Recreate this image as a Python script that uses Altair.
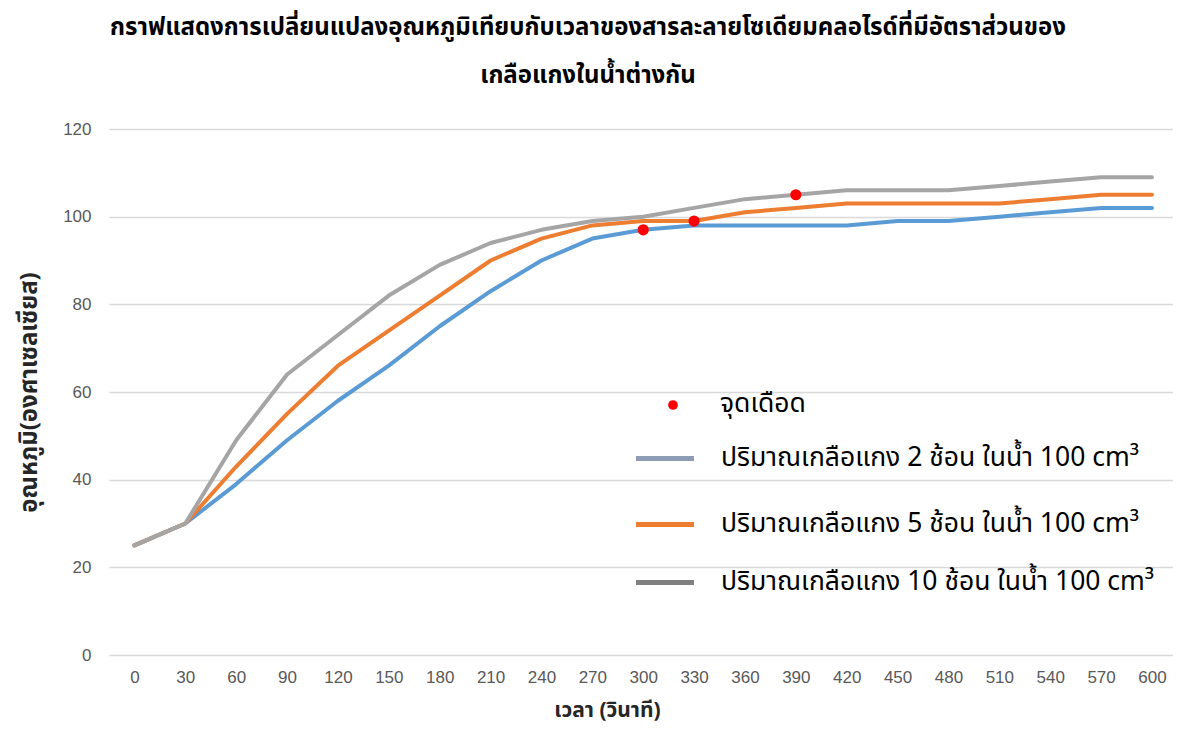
import altair as alt
import pandas as pd

times = [0, 30, 60, 90, 120, 150, 180, 210, 240, 270, 300, 330, 360, 390, 420, 450, 480, 510, 540, 570, 600]
temp_2 = [25, 30, 39, 49, 58, 66, 75, 83, 90, 95, 97, 98, 98, 98, 98, 99, 99, 100, 101, 102, 102]
temp_5 = [25, 30, 43, 55, 66, 74, 82, 90, 95, 98, 99, 99, 101, 102, 103, 103, 103, 103, 104, 105, 105]
temp_10 = [25, 30, 49, 64, 73, 82, 89, 94, 97, 99, 100, 102, 104, 105, 106, 106, 106, 107, 108, 109, 109]

boil_times = [300, 330, 390]
boil_temps = [97, 99, 105]

series_names = [
    "ปริมาณเกลือแกง 2 ช้อน ในน้ำ 100 cm³",
    "ปริมาณเกลือแกง 5 ช้อน ในน้ำ 100 cm³",
    "ปริมาณเกลือแกง 10 ช้อน ในน้ำ 100 cm³",
]
boil_name = "จุดเดือด"
line_colors = ["#5B9BD5", "#ED7D31", "#A5A5A5"]
legend_colors = ["#8E9DB5", "#ED7D31", "#808080"]

title_lines = [
    "กราฟแสดงการเปลี่ยนแปลงอุณหภูมิเทียบกับเวลาของสารละลายโซเดียมคลอไรด์ที่มีอัตราส่วนของ",
    "เกลือแกงในน้ำต่างกัน",
]
x_title = "เวลา (วินาที)"
y_title = "อุณหภูมิ(องศาเซลเซียส)"

FONT = "Tahoma, 'Noto Sans Thai', 'Noto Sans', sans-serif"
NUM_FONT = "'Liberation Sans Narrow', 'Liberation Sans', sans-serif"

rows = []
for name, vals in zip(series_names, [temp_2, temp_5, temp_10]):
    for t, v in zip(times, vals):
        rows.append({"series": name, "t": t, "temp": v})
df = pd.DataFrame(rows)
boil_df = pd.DataFrame({"t": boil_times, "temp": boil_temps})

W, H = 1064, 526
PAD_L, PAD_T = 101, 121

x_enc = alt.X(
    "t:Q",
    scale=alt.Scale(domain=[-15, 612.4], nice=False, zero=False),
    axis=alt.Axis(
        title=x_title, values=times, labelAngle=0, labelFont=NUM_FONT, labelFontSize=17,
        labelColor="#595959", labelPadding=14, ticks=False, domain=False, grid=False,
        labelFlush=False, labelOverlap=False,
        titleFont=FONT, titleFontSize=21, titleFontWeight="bold", titleColor="#262626",
        titleX=498, titleY=55, titleAlign="center", titleBaseline="middle",
    ),
)
y_enc = alt.Y(
    "temp:Q",
    scale=alt.Scale(domain=[0, 120], nice=False),
    axis=alt.Axis(
        title=y_title, values=[0, 20, 40, 60, 80, 100, 120], labelFont=NUM_FONT,
        labelFontSize=17, labelColor="#595959", labelPadding=18, ticks=False,
        domain=False, grid=True, gridColor="#D9D9D9", gridWidth=1.3,
        titleFont=FONT, titleFontSize=24, titleFontWeight="bold", titleColor="#262626",
        titleX=-80, titleY=263, titleAlign="center", titleBaseline="middle", titleAngle=-90,
    ),
)

layers = []
for name, col in zip(series_names, line_colors):
    layers.append(
        alt.Chart(df).transform_filter(alt.datum.series == name)
        .mark_line(strokeWidth=4, color=col, strokeCap="round", strokeJoin="round")
        .encode(x=x_enc, y=y_enc)
    )

points = alt.Chart(boil_df).mark_circle(size=125, color="#FF0000", opacity=1).encode(x="t:Q", y="temp:Q")
layers.append(points)

# custom legend (positions in plot pixels)
leg_ys = [329.5, 395.5, 453.5]
leg_text_font = dict(font=FONT, fontSize=26.5, color="#000000", align="left", baseline="middle")
legend_layers = [
    alt.Chart(pd.DataFrame({"label": [boil_name]})).mark_circle(size=95, color="#FF0000", opacity=1)
    .encode(x=alt.value(564), y=alt.value(276)),
    alt.Chart(pd.DataFrame({"label": [boil_name]})).mark_text(**leg_text_font)
    .encode(x=alt.value(611), y=alt.value(275), text="label:N"),
]
for name, col, yy in zip(series_names, legend_colors, leg_ys):
    ldf = pd.DataFrame({"label": [name]})
    legend_layers.append(
        alt.Chart(ldf).mark_rule(strokeWidth=5, color=col)
        .encode(x=alt.value(527), x2=alt.value(585), y=alt.value(yy))
    )
    legend_layers.append(
        alt.Chart(ldf).mark_text(**leg_text_font)
        .encode(x=alt.value(612), y=alt.value(yy - 1), text="label:N")
    )

chart = alt.layer(*layers, *legend_layers).properties(
    width=W, height=H,
    title=alt.TitleParams(
        text=title_lines, font=FONT, fontSize=24, fontWeight="bold", color="#000000",
        anchor="middle", dx=-53, lineHeight=48, offset=32,
    ),
    autosize=alt.AutoSizeParams(type="none"),
    padding={"left": PAD_L, "top": PAD_T, "right": 0, "bottom": 70},
).configure_view(stroke=None)

chart.save("out.html", embed_options={"renderer": "svg", "actions": False})
